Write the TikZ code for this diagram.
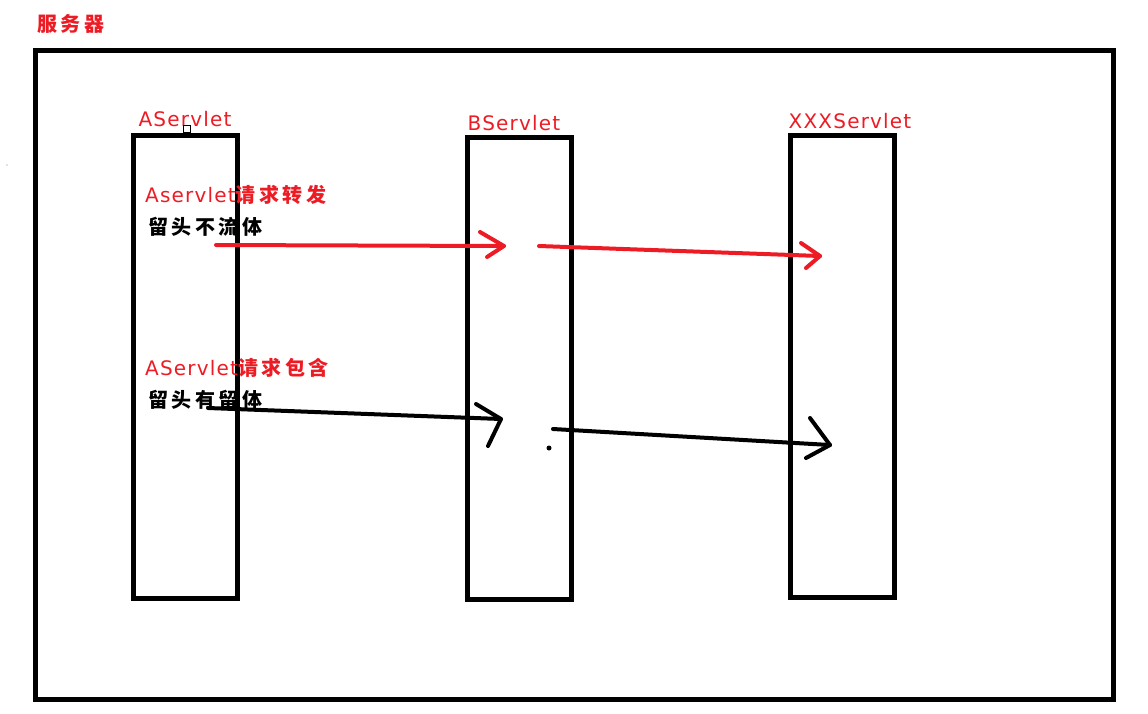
\documentclass[tikz,border=0pt]{standalone}
\usepackage{fontspec}
\setmainfont{DejaVu Sans}[LetterSpace=6]
\newfontfamily\cjk{Noto Sans CJK SC}[LetterSpace=18]
\definecolor{pred}{HTML}{ED1C24}
\tikzset{
  servbox/.style={draw=black, line width=5pt, minimum width=104pt, inner sep=0pt, outer sep=0pt},
  lbl/.style={inner sep=0pt, anchor=base, text=pred, font=\fontsize{20}{22}\selectfont},
  note/.style={inner sep=0pt, anchor=base west, font=\fontsize{20}{22}\selectfont},
  arrowline/.style={line width=4pt, line cap=round, line join=round},
}
\begin{document}
\begin{tikzpicture}[x=1pt, y=-1pt]
\useasboundingbox (0,0) rectangle (1148,713);
% title
\node[note, text=pred] (title) at (37,31) {\cjk\bfseries 服务器};
% outer frame
\node[draw=black, line width=5pt, minimum width=1078pt, minimum height=649pt, inner sep=0pt] (server) at (574,374.5) {};
% servlet boxes
\node[servbox, minimum height=463pt] (A) at (185,366.5) {};
\node[servbox, minimum height=462pt] (B) at (519,368) {};
\node[servbox, minimum height=462pt] (X) at (842,366) {};
% titles
\node[lbl] (At) at (185,126.5) {AServlet};
\node[lbl] (Bt) at (514,130) {BServlet};
\node[lbl] (Xt) at (850,128.5) {XXXServlet};
% small marks
\node[draw=black, fill=white, line width=0.8pt, minimum size=7pt, inner sep=0pt] (mark) at (186.5,128.5) {};
\fill[gray] (7,165) circle (0.6pt);
% notes
\node[note, text=pred] (n1) at (145,202.5) {Aservlet{\cjk\bfseries 请求转发}};
\node[note, text=black] (n2) at (148,234.5) {\cjk\bfseries 留头不流体};
\node[note, text=pred] (n3) at (145,375.5) {AServlet{\cjk\bfseries 请求包含}};
\node[note, text=black] (n4) at (148,407.5) {\cjk\bfseries 留头有留体};
% connector coordinates
\coordinate (f1s) at (216,245);
\coordinate (f1e) at (504,246);
\coordinate (f2s) at (539,246);
\coordinate (f2e) at (820,256);
\coordinate (i1s) at (208,408);
\coordinate (i1e) at (501,419);
\coordinate (i2s) at (553,429);
\coordinate (i2e) at (830,445);
% forward arrows (red)
\draw[arrowline, pred] (f1s) -- (f1e);
\draw[arrowline, pred] (480,232) -- (f1e) -- (487,257);
\draw[arrowline, pred] (f2s) -- (f2e);
\draw[arrowline, pred] (801,243) -- (f2e) -- (806,268);
% include arrows (black)
\draw[arrowline, black] (i1s) -- (i1e);
\draw[arrowline, black] (476,404) -- (i1e) -- (488,446);
\draw[arrowline, black] (i2s) -- (i2e);
\draw[arrowline, black] (810,418) -- (i2e) -- (806,458);
\fill[black] (549,448) circle (2.5pt);
\end{tikzpicture}
\end{document}
